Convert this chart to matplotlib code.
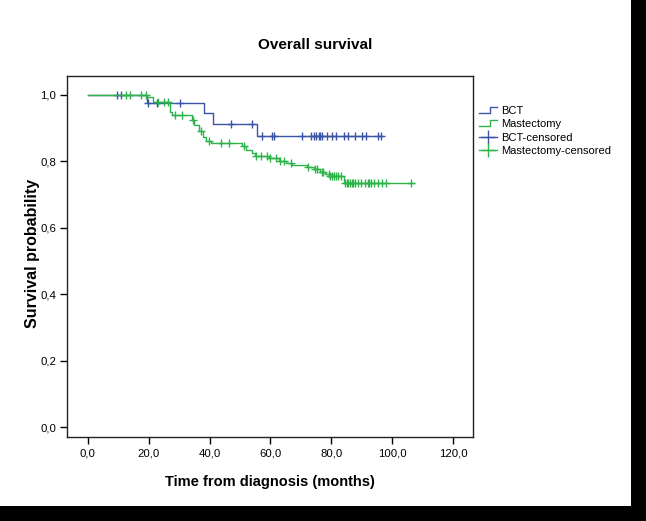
import numpy as np
import matplotlib
matplotlib.use("Agg")
import matplotlib.pyplot as plt
from matplotlib.lines import Line2D
from matplotlib.legend_handler import HandlerBase
from matplotlib.patches import Rectangle

# ---------------- data ----------------
bct_event_times = [19.4, 38.2, 41.2, 55.7]
bct_surv = [0.975, 0.945, 0.913, 0.877]
bct_end = 96.5
bct_censor_times = [9.5, 11.0, 19.8, 22.6, 30.3, 47.2, 53.8, 57.1, 60.4, 61.1,
                    70.4, 73.4, 74.2, 75.0, 75.8, 76.4, 76.9, 78.5, 80.2, 81.5,
                    84.3, 85.6, 87.6, 90.0, 91.3, 95.4, 96.2]

mast_event_times = [19.5, 21.5, 27.0, 27.8, 34.3, 35.0, 36.6, 37.7, 38.8, 40.5,
                    50.5, 52.0, 54.0, 55.0, 59.5, 62.7, 65.0, 67.1, 72.0, 74.2,
                    76.4, 78.0, 79.5, 84.0]
mast_surv = [0.995, 0.98, 0.95, 0.94, 0.925, 0.91, 0.89, 0.874, 0.862, 0.856,
             0.845, 0.835, 0.825, 0.816, 0.809, 0.802, 0.794, 0.789, 0.782, 0.776,
             0.769, 0.762, 0.756, 0.736]
mast_end = 107.0
mast_censor_times = [12.5, 14.0, 17.5, 19.0, 23.2, 25.2, 26.5, 28.5, 30.8, 34.6,
                     37.1, 39.9, 43.7, 46.4, 51.3, 55.4, 56.8, 58.9, 60.0, 61.7,
                     63.2, 64.4, 66.6, 72.4, 74.6, 75.3, 76.8, 77.2, 79.1, 79.7,
                     80.2, 80.8, 81.4, 82.2, 83.0, 84.5, 85.1, 85.6, 86.1, 86.7,
                     87.2, 87.7, 88.8, 89.6, 90.9, 92.0, 92.5, 93.0, 94.1, 95.2,
                     96.5, 98.0, 106.3]

xticks = [0, 20, 40, 60, 80, 100, 120]
xtick_labels = ['0,0', '20,0', '40,0', '60,0', '80,0', '100,0', '120,0']
yticks = [0.0, 0.2, 0.4, 0.6, 0.8, 1.0]
ytick_labels = ['0,0', '0,2', '0,4', '0,6', '0,8', '1,0']

labels = ['BCT', 'Mastectomy', 'BCT-censored', 'Mastectomy-censored']
blue = '#3a55a6'
green = '#2db34a'

plt.rcParams['font.family'] = ['Liberation Sans', 'DejaVu Sans']

fig = plt.figure(figsize=(6.46, 5.21), dpi=100, facecolor='black')
fig.patches.append(Rectangle((0, 15/521), 631/646, 1 - 15/521, transform=fig.transFigure,
                             facecolor='white', edgecolor='none', zorder=-10))
ax = fig.add_axes([67/646, 1 - 437/521, (473 - 67)/646, (437 - 76)/521])


def km(ax, ev_t, ev_s, end, cens, color):
    t = np.concatenate([[0.0], ev_t, [end]])
    s = np.concatenate([[1.0], ev_s, [ev_s[-1]]])
    ax.step(t, s, where='post', color=color, lw=1.0)
    cens = np.asarray(cens)
    idx = np.searchsorted(np.asarray(ev_t), cens, side='right')
    sv = np.concatenate([[1.0], ev_s])[idx]
    ax.plot(cens, sv, linestyle='none', marker='+', ms=5.5, mew=1.0, color=color)


km(ax, bct_event_times, bct_surv, bct_end, bct_censor_times, blue)
km(ax, mast_event_times, mast_surv, mast_end, mast_censor_times, green)

ax.set_xlim(-6.8, 126.5)
ax.set_ylim(-0.03, 1.057)
ax.set_xticks(xticks)
ax.set_xticklabels(xtick_labels)
ax.set_yticks(yticks)
ax.set_yticklabels(ytick_labels)
ax.tick_params(direction='out', length=5, width=1, labelsize=8.2, colors='black', pad=3)
for sp in ax.spines.values():
    sp.set_linewidth(1.0)
    sp.set_color('#222222')

fig.text(0.488, 1 - 45/521, 'Overall survival', ha='center', va='center',
         fontsize=11, fontweight='bold')
fig.text(33/646, 1 - 253/521, 'Survival probability', ha='center', va='center',
         rotation=90, fontsize=11.5, fontweight='bold')
fig.text(270/646, 1 - 482/521, 'Time from diagnosis (months)', ha='center', va='center',
         fontsize=10.5, fontweight='bold')


class StepHandler(HandlerBase):
    def create_artists(self, legend, orig_handle, xdescent, ydescent, width, height,
                       fontsize, trans):
        x0, x1 = -xdescent, -xdescent + width
        y0, y1 = -ydescent + 0.15 * height, -ydescent + 0.95 * height
        xm = x0 + 0.6 * width
        ln = Line2D([x0, xm, xm, x1], [y0, y0, y1, y1], color=orig_handle.get_color(),
                    lw=1.0, transform=trans)
        return [ln]


h_bct = Line2D([], [], color=blue, lw=1.0)
h_mast = Line2D([], [], color=green, lw=1.0)
h_bct_c = Line2D([], [], color=blue, lw=1.0, marker='+', ms=10, mew=1.0)
h_mast_c = Line2D([], [], color=green, lw=1.0, marker='+', ms=10, mew=1.0)

leg = fig.legend([h_bct, h_mast, h_bct_c, h_mast_c], labels,
                 handler_map={h_bct: StepHandler(), h_mast: StepHandler()},
                 loc='upper left', bbox_to_anchor=(479/646, 1 - 106/521),
                 frameon=False, fontsize=8, handlelength=1.6, handletextpad=0.4,
                 labelspacing=0.3, borderaxespad=0, borderpad=0, markerscale=1.0)

fig.savefig('out.png', dpi=100, facecolor=fig.get_facecolor())
